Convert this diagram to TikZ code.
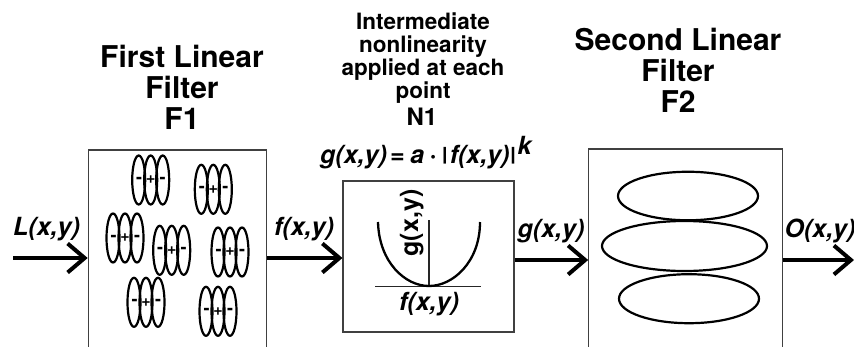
\documentclass[tikz,border=0pt]{standalone}
\usepackage{fontspec}
\usepackage{graphicx}
\setmainfont{TeX Gyre Heros}
\usetikzlibrary{arrows.meta,shapes.geometric}
\newcommand{\shortbar}{\raisebox{2.2pt}{\scalebox{1}[0.72]{\upshape|}}}
\tikzset{
  boxframe/.style={rectangle,draw=black!75,line width=1.1pt,inner sep=0},
  flow/.style={line width=4pt,-{Straight Barb[length=17pt,width=29pt,line width=4pt]}},
  lobe/.style={ellipse,draw,line width=2.2pt,minimum width=13pt,minimum height=49pt,inner sep=0},
  bigellipse/.style={ellipse,draw,line width=2.2pt,inner sep=0},
  sign/.style={font=\bfseries\fontsize{16}{16}\selectfont,inner sep=0},
  minus/.style={font=\bfseries\fontsize{18}{18}\selectfont,inner sep=0},
  head/.style={font=\bfseries\fontsize{30}{31}\selectfont,align=center,inner sep=0,anchor=base},
  subhead/.style={font=\bfseries\fontsize{22.5}{22.7}\selectfont,align=center,inner sep=0,anchor=base},
  sig/.style={font=\bfseries\itshape\fontsize{25}{25}\selectfont,inner sep=0,anchor=base},
  axis/.style={line width=1.2pt,draw=black!85},
  gab/.pic={
    \node[lobe] (-l) at (-12,0) {};
    \node[lobe] (-c) at (0,0) {};
    \node[lobe] (-r) at (12,0) {};
    \node[minus] at (-11.5,0) {-};
    \node[sign] at (0,0) {+};
    \node[minus] at (12,0) {-};
  }
}
\begin{document}
\begin{tikzpicture}[x=1pt,y=-1pt]
\useasboundingbox (0,0) rectangle (854,346);
% boxes
\node[boxframe,minimum width=178.5pt,minimum height=210pt] (f1) at (177.5,255) {};
\node[boxframe,minimum width=193.5pt,minimum height=210pt] (f2) at (685.5,254) {};
\node[boxframe,minimum width=171pt,minimum height=151pt] (n1) at (428.5,256.5) {};
% gabor groups
\pic (g1) at (150.7,180) {gab};
\pic (g2) at (213.3,189.3) {gab};
\pic (g3) at (125,238) {gab};
\pic (g4) at (171.7,250.3) {gab};
\pic (g5) at (230,252) {gab};
\pic (g6) at (146,302.3) {gab};
\pic (g7) at (218,311.3) {gab};
% second-filter ellipses
\node[bigellipse,minimum width=140pt,minimum height=48.5pt] (e1) at (688,196) {};
\node[bigellipse,minimum width=165pt,minimum height=50pt] (e2) at (684.5,246) {};
\node[bigellipse,minimum width=140pt,minimum height=49pt] (e3) at (689,298.7) {};
% connectors
\coordinate (Lin) at (13,258);
\coordinate (Oout) at (854,260);
\coordinate (rowa) at (0,258);
\coordinate (rowb) at (0,260);
\draw[flow] (Lin) -- (Lin -| f1.west);
\draw[flow] (rowa -| f1.east) -- (rowa -| n1.west);
\draw[flow] (rowb -| n1.east) -- (rowb -| f2.west);
\draw[flow] (rowb -| f2.east) -- (Oout);
% inner plot
\coordinate (xa) at (375,286.5);
\coordinate (xb) at (481,286.5);
\coordinate (ya) at (429,220);
\coordinate (yb) at (429,286.5);
\draw[axis] (xa) -- (xb);
\draw[axis] (ya) -- (yb);
\draw[line width=2.3pt] (378,222) .. controls (379,262) and (405,286) .. (429,286) .. controls (453,286) and (480,262) .. (480,222);
\node[sig,font=\bfseries\fontsize{25}{25}\selectfont,rotate=90] (gl) at (418,223) {g(x,y)};
\node[sig] (fl) at (429,310) {f(x,y)};
% signal labels
\node[sig] (L) at (46.5,235) {L(x,y)};
\node[sig] (f) at (304,235) {f(x,y)};
\node[sig] (g) at (551,237) {g(x,y)};
\node[sig] (O) at (820,237) {O(x,y)};
% headings
\node[head] (h1) at (182,129) {First Linear\\Filter\\F1};
\node[head] (h2) at (678,112) {Second Linear\\Filter\\F2};
\node[subhead] (h3) at (423,98) {Intermediate\\nonlinearity\\applied at each\\point};
\node[font=\bfseries\fontsize{24}{24}\selectfont,inner sep=0,anchor=base] (h4) at (422,125) {N1};
\node[font=\bfseries\itshape\fontsize{25}{25}\selectfont,inner sep=0,anchor=base west] (eq) at (320,163) {g(x,y)\hspace{3pt}=\hspace{6pt}a\hspace{5pt}·\hspace{5pt}\shortbar\hspace{1.5pt}f(x,y)\shortbar\hspace{1pt}\raisebox{9pt}{k}};
\end{tikzpicture}
\end{document}
